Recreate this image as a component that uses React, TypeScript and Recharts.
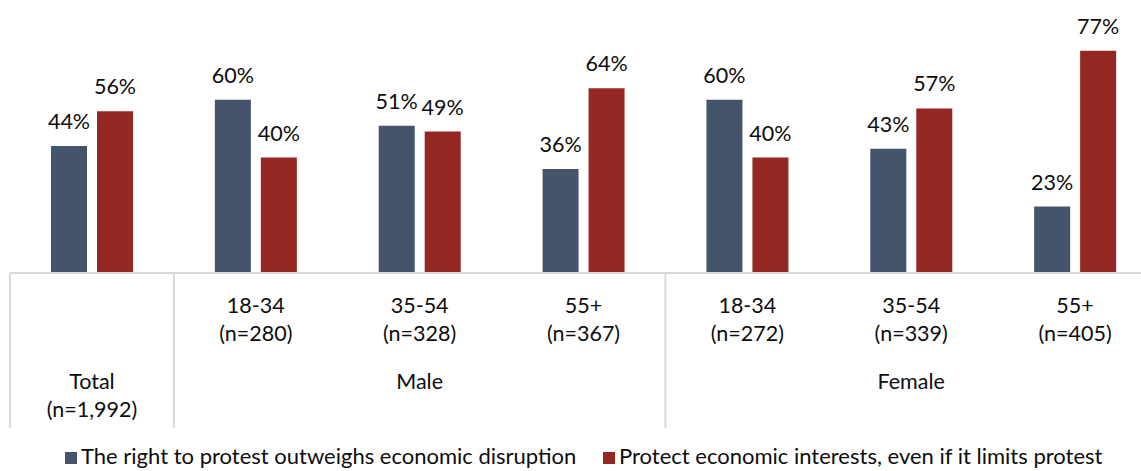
import { BarChart, Bar, XAxis, YAxis, LabelList, Legend } from 'recharts';

// survey split by age band and gender
const categories = ['Total', '18-34', '35-54', '55+', '18-34', '35-54', '55+'];
const sampleSizes = ['(n=1,992)', '(n=280)', '(n=328)', '(n=367)', '(n=272)', '(n=339)', '(n=405)'];
const genders = ['', 'Male', 'Male', 'Male', 'Female', 'Female', 'Female'];

const rightToProtest = [44, 60, 51, 36, 60, 43, 23];
const protectEconomy = [56, 40, 49, 64, 40, 57, 77];

const seriesNames = [
    'The right to protest outweighs economic disruption',
    'Protect economic interests, even if it limits protest',
];
const seriesColors = ['#44546A', '#942722'];

const data = categories.map((cat, i) => ({
    cat: `${i}`,
    label: cat,
    n: sampleSizes[i],
    gender: genders[i],
    protest: rightToProtest[i],
    economy: protectEconomy[i],
}));

const CHART_W = 1160;
const CHART_H = 471;
const MARGIN = { top: 42, right: 3, left: 10, bottom: 0 };
const BAND = (CHART_W - MARGIN.left - MARGIN.right) / categories.length;
const FONT = 'Lato, "Open Sans", sans-serif';
const FONT_SIZE = 21.5;
const GRID = '#d9d9d9';
const INK = '#0d0d0d';

const AxisTick = (props: any) => {
    const { x, y, index } = props;
    const row = data[index];
    const left = x - BAND / 2;
    const groupLabel = index === 2 ? 'Male' : index === 5 ? 'Female' : null;
    const hasDivider = index === 0 || index === 1 || index === 4;
    return (
        <g fontFamily={FONT} fontSize={FONT_SIZE} fill={INK} textAnchor="middle">
            {hasDivider && (
                <line x1={left} x2={left} y1={y} y2={y + 155} stroke={GRID} strokeWidth={2} />
            )}
            {index === 0 ? (
                <>
                    <text x={x} y={y + 116}>{row.label}</text>
                    <text x={x} y={y + 144}>{row.n}</text>
                </>
            ) : (
                <>
                    <text x={x} y={y + 40}>{row.label}</text>
                    <text x={x} y={y + 68}>{row.n}</text>
                </>
            )}
            {groupLabel && <text x={x} y={y + 116}>{groupLabel}</text>}
        </g>
    );
};

const LegendContent = () => (
    <div style={{ position: 'relative', height: 30, fontFamily: FONT, fontSize: 22, color: INK }}>
        {seriesNames.map((name, i) => (
            <div
                key={name}
                style={{
                    position: 'absolute',
                    left: i === 0 ? 55 : 593,
                    top: 0,
                    display: 'flex',
                    alignItems: 'center',
                    gap: 4,
                    whiteSpace: 'nowrap',
                    lineHeight: '30px',
                }}
            >
                <span style={{ width: 12, height: 12, background: seriesColors[i], display: 'inline-block', marginTop: 3 }} />
                {name}
            </div>
        ))}
    </div>
);

export default function App() {
    return (
        <div style={{ position: 'absolute', top: 0, left: 0, width: 1141, height: CHART_H, overflow: 'hidden', background: '#fff' }}>
            <BarChart width={CHART_W} height={CHART_H} data={data} margin={MARGIN} barSize={36} barGap={10}>
                <XAxis
                    dataKey="cat"
                    height={168}
                    interval={0}
                    tickLine={false}
                    tickSize={0}
                    tickMargin={0}
                    axisLine={{ stroke: GRID, strokeWidth: 2 }}
                    tick={<AxisTick />}
                />
                <YAxis hide domain={[0, 80]} />
                <Legend verticalAlign="bottom" content={<LegendContent />} />
                <Bar dataKey="protest" name={seriesNames[0]} fill={seriesColors[0]} isAnimationActive={false}>
                    <LabelList
                        dataKey="protest"
                        position="top"
                        offset={17}
                        formatter={(v: any) => `${v}%`}
                        style={{ fontFamily: FONT, fontSize: FONT_SIZE, fill: INK }}
                    />
                </Bar>
                <Bar dataKey="economy" name={seriesNames[1]} fill={seriesColors[1]} isAnimationActive={false}>
                    <LabelList
                        dataKey="economy"
                        position="top"
                        offset={17}
                        formatter={(v: any) => `${v}%`}
                        style={{ fontFamily: FONT, fontSize: FONT_SIZE, fill: INK }}
                    />
                </Bar>
            </BarChart>
        </div>
    );
}
